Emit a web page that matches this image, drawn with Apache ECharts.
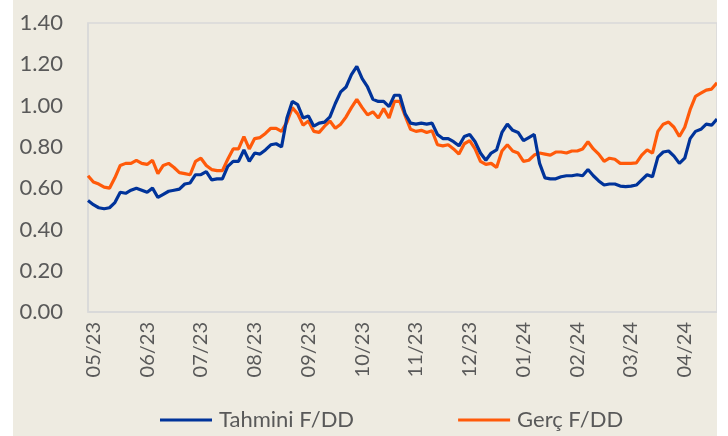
<!DOCTYPE html>
<html>
<head>
<meta charset="utf-8">
<script src="https://cdn.jsdelivr.net/npm/echarts@6/dist/echarts.min.js"></script>
<style>
  html, body { margin: 0; padding: 0; background: #ffffff; }
  #chart { position: absolute; left: 13px; top: 0; width: 704px; height: 436px; background: #EEEBE1; }
</style>
</head>
<body>
<div id="chart"></div>
<script>
// month tick labels, one every 10 points starting at point 1
const months = ['05/23', '06/23', '07/23', '08/23', '09/23', '10/23', '11/23', '12/23', '01/24', '02/24', '03/24', '04/24'];
const labelStart = 1;
const labelStep = 10;

const tahmini = [
  0.54, 0.52, 0.505, 0.50, 0.505, 0.53, 0.58, 0.575, 0.59, 0.60,
  0.59, 0.58, 0.60, 0.555, 0.57, 0.585, 0.59, 0.595, 0.62, 0.625,
  0.665, 0.665, 0.68, 0.64, 0.645, 0.645, 0.705, 0.73, 0.73, 0.785,
  0.73, 0.77, 0.765, 0.785, 0.81, 0.815, 0.80, 0.94, 1.02, 1.005,
  0.94, 0.95, 0.90, 0.915, 0.92, 0.945, 1.01, 1.066, 1.09, 1.15,
  1.19, 1.13, 1.09, 1.03, 1.02, 1.02, 0.995, 1.05, 1.05, 0.96,
  0.915, 0.91, 0.915, 0.91, 0.915, 0.86, 0.84, 0.84, 0.825, 0.805,
  0.85, 0.86, 0.825, 0.77, 0.735, 0.77, 0.785, 0.87, 0.91, 0.88,
  0.87, 0.83, 0.845, 0.86, 0.72, 0.65, 0.645, 0.645, 0.655, 0.66,
  0.66, 0.665, 0.66, 0.69, 0.66, 0.635, 0.615, 0.62, 0.62, 0.61,
  0.607, 0.61, 0.615, 0.64, 0.665, 0.655, 0.75, 0.775, 0.78, 0.755,
  0.72, 0.745, 0.84, 0.875, 0.885, 0.91, 0.905, 0.935
];

const gerc = [
  0.66, 0.63, 0.62, 0.605, 0.60, 0.65, 0.71, 0.72, 0.72, 0.735,
  0.72, 0.715, 0.735, 0.67, 0.71, 0.72, 0.70, 0.675, 0.67, 0.665,
  0.73, 0.745, 0.71, 0.69, 0.685, 0.685, 0.74, 0.79, 0.79, 0.85,
  0.79, 0.84, 0.845, 0.865, 0.89, 0.89, 0.875, 0.92, 0.99, 0.96,
  0.905, 0.925, 0.875, 0.87, 0.90, 0.925, 0.89, 0.91, 0.945, 0.99,
  1.03, 0.99, 0.955, 0.97, 0.94, 0.985, 0.94, 1.02, 1.02, 0.95,
  0.885, 0.875, 0.88, 0.87, 0.878, 0.81, 0.805, 0.81, 0.79, 0.765,
  0.815, 0.83, 0.79, 0.73, 0.715, 0.72, 0.70, 0.78, 0.81, 0.78,
  0.77, 0.73, 0.735, 0.76, 0.77, 0.765, 0.76, 0.775, 0.775, 0.77,
  0.78, 0.78, 0.79, 0.825, 0.79, 0.765, 0.73, 0.745, 0.74, 0.72,
  0.72, 0.72, 0.722, 0.76, 0.785, 0.77, 0.875, 0.91, 0.92, 0.895,
  0.85, 0.895, 0.98, 1.045, 1.06, 1.075, 1.08, 1.11
];

const categories = tahmini.map(function (v, i) { return 'p' + i; });

const textColor = '#595959';
const fontFamily = 'Lato, "Noto Sans", sans-serif';

const chart = echarts.init(document.getElementById('chart'));
chart.setOption({
  animation: false,
  grid: {
    left: 75, right: 0, top: 23, bottom: 124,
    show: true, borderColor: '#D9D9D9', borderWidth: 1.5
  },
  legend: {
    left: 142, top: 404,
    itemWidth: 52, itemHeight: 3, itemGap: 104,
    icon: 'rect',
    textStyle: { color: textColor, fontSize: 22, fontFamily: fontFamily, padding: [0, 0, 0, 2] },
    data: ['Tahmini F/DD', 'Gerç F/DD']
  },
  xAxis: {
    type: 'category',
    data: categories,
    boundaryGap: false,
    axisLine: { show: true, lineStyle: { color: '#D9D9D9', width: 1.5 } },
    axisTick: { show: false },
    splitLine: { show: false },
    axisLabel: {
      rotate: 90,
      margin: 10,
      color: textColor,
      fontSize: 20,
      fontFamily: fontFamily,
      interval: function (i) { return i >= labelStart && (i - labelStart) % labelStep === 0; },
      formatter: function (v, i) {
        const m = (i - labelStart) / labelStep;
        return months[m] || '';
      }
    }
  },
  yAxis: {
    type: 'value',
    min: 0, max: 1.4, interval: 0.2,
    axisLine: { show: true, lineStyle: { color: '#D9D9D9', width: 1.5 } },
    axisTick: { show: false },
    splitLine: { show: false },
    axisLabel: {
      margin: 25,
      color: textColor,
      fontSize: 22,
      fontFamily: fontFamily,
      formatter: function (v) { return v.toFixed(2); }
    }
  },
  series: [
    {
      name: 'Tahmini F/DD',
      type: 'line',
      data: tahmini,
      showSymbol: false,
      symbol: 'none',
      lineStyle: { color: '#00339A', width: 3.2 },
      itemStyle: { color: '#00339A' },
      z: 3
    },
    {
      name: 'Gerç F/DD',
      type: 'line',
      data: gerc,
      showSymbol: false,
      symbol: 'none',
      lineStyle: { color: '#FF5A0A', width: 3.2 },
      itemStyle: { color: '#FF5A0A' },
      z: 2
    }
  ]
});
</script>
</body>
</html>
